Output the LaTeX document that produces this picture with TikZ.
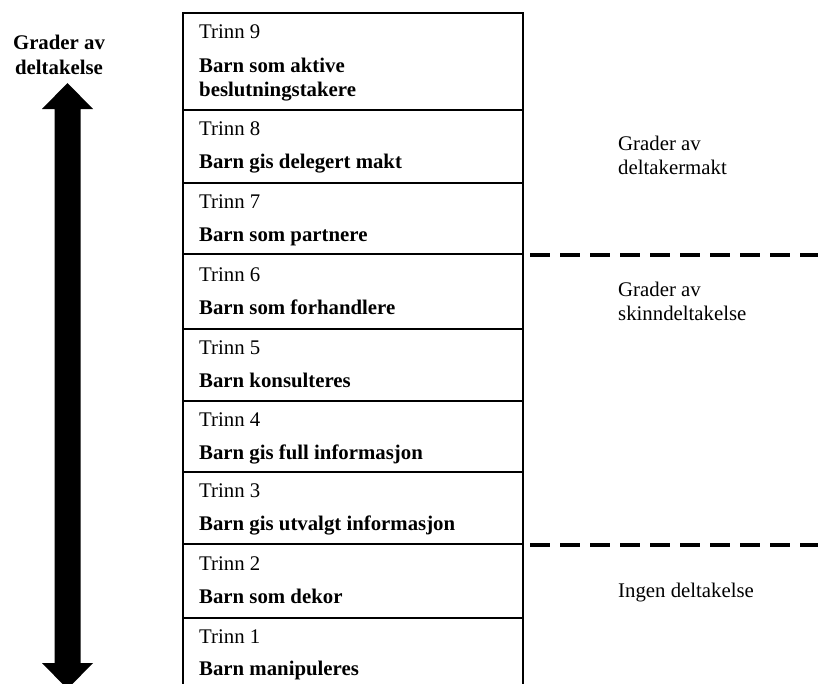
\documentclass[tikz,border=0pt]{standalone}
\usepackage{fontspec}
\setmainfont{Liberation Serif}
\begin{document}
\begin{tikzpicture}[x=1pt,y=-1pt,
  stepbox/.style={draw, line width=2.2pt, rectangle, inner sep=0pt, outer sep=0pt, anchor=north west, minimum width=340pt},
  lbl/.style={anchor=base west, inner sep=0pt, font=\fontsize{20.8}{24.5}\selectfont},
  blbl/.style={anchor=base west, inner sep=0pt, font=\fontsize{20.8}{24.5}\selectfont\bfseries},
  sidelbl/.style={anchor=base, inner sep=0pt, font=\fontsize{20.8}{24.5}\selectfont\bfseries},
  sepline/.style={line width=4.5pt, dash pattern=on 20pt off 10pt},
]
\useasboundingbox (0,0) rectangle (818,683);
\clip (0,0) rectangle (818,683);

% rows
\node[stepbox, minimum height=97pt] (r9) at (183,13) {};
\node[stepbox, minimum height=73pt] (r8) at (183,110) {};
\node[stepbox, minimum height=71pt] (r7) at (183,183) {};
\node[stepbox, minimum height=75pt] (r6) at (183,254) {};
\node[stepbox, minimum height=72pt] (r5) at (183,329) {};
\node[stepbox, minimum height=71pt] (r4) at (183,401) {};
\node[stepbox, minimum height=72pt] (r3) at (183,472) {};
\node[stepbox, minimum height=74pt] (r2) at (183,544) {};
\node[stepbox, minimum height=72pt] (r1) at (183,618) {};

% texts
\node[lbl]  (t9) at (199,38) {Trinn 9};
\node[blbl] (b9a) at (199,72) {Barn som aktive};
\node[blbl] (b9b) at (199,96) {beslutningstakere};
\node[lbl]  (t8) at (199,135) {Trinn 8};
\node[blbl] (b8) at (199,168) {Barn gis delegert makt};
\node[lbl]  (t7) at (199,208) {Trinn 7};
\node[blbl] (b7) at (199,241) {Barn som partnere};
\node[lbl]  (t6) at (199,281) {Trinn 6};
\node[blbl] (b6) at (199,314) {Barn som forhandlere};
\node[lbl]  (t5) at (199,354) {Trinn 5};
\node[blbl] (b5) at (199,387) {Barn konsulteres};
\node[lbl]  (t4) at (199,426) {Trinn 4};
\node[blbl] (b4) at (199,459) {Barn gis full informasjon};
\node[lbl]  (t3) at (199,497) {Trinn 3};
\node[blbl] (b3) at (199,530) {Barn gis utvalgt informasjon};
\node[lbl]  (t2) at (199,570) {Trinn 2};
\node[blbl] (b2) at (199,603) {Barn som dekor};
\node[lbl]  (t1) at (199,643) {Trinn 1};
\node[blbl] (b1) at (199,675) {Barn manipuleres};

% right side labels
\node[lbl] (g1a) at (618,150) {Grader av};
\node[lbl] (g1b) at (618,174) {deltakermakt};
\node[lbl] (g2a) at (618,296) {Grader av};
\node[lbl] (g2b) at (618,320) {skinndeltakelse};
\node[lbl] (g3)  at (618,597) {Ingen deltakelse};

% dashed separators
\coordinate (d1s) at (530,255);
\coordinate (d1e) at (818,255);
\coordinate (d2s) at (530,545);
\coordinate (d2e) at (818,545);
\draw[sepline] (d1s) -- (d1e);
\draw[sepline] (d2s) -- (d2e);

% left label
\node[sidelbl] (la) at (59,49) {Grader av};
\node[sidelbl] (lb) at (59,74) {deltakelse};

% double arrow
\fill[black] (67.5,83) -- (93,109) -- (80.5,109) -- (80.5,663) -- (93,663)
  -- (67.5,689) -- (42,663) -- (54.5,663) -- (54.5,109) -- (42,109) -- cycle;
\end{tikzpicture}
\end{document}
